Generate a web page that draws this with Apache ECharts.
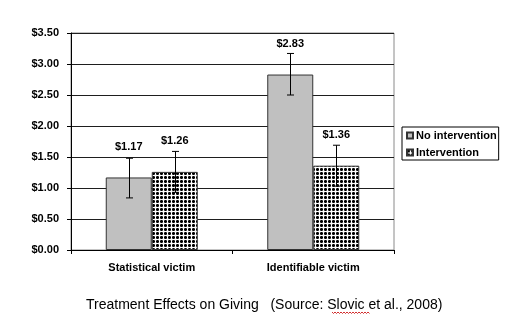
<!DOCTYPE html>
<html>
<head>
<meta charset="utf-8">
<script src="https://cdn.jsdelivr.net/npm/echarts@6/dist/echarts.min.js"></script>
<style>
  html, body { margin: 0; padding: 0; background: #fff; }
  #chart { width: 520px; height: 334px; }
</style>
</head>
<body>
<div id="chart"></div>
<script>
// Donation amounts by victim framing, with error ranges
const categories = ['Statistical victim', 'Identifiable victim'];
const seriesNames = ['No intervention', 'Intervention'];
const noIntervention = [1.17, 2.83];
const intervention = [1.26, 1.36];
const noInterventionLow = [0.84, 2.50];
const noInterventionHigh = [1.48, 3.17];
const interventionLow = [0.93, 1.03];
const interventionHigh = [1.59, 1.69];
const yTicks = { min: 0, max: 3.5, step: 0.5 };
const caption = 'Treatment Effects on Giving   (Source: Slovic et al., 2008)';

const FONT = '"Liberation Sans", Arial, sans-serif';
const BAR_W = 46;

// small dotted tile used as the fill for the "Intervention" bars
function dotTile() {
  const c = document.createElement('canvas');
  c.width = 4; c.height = 4;
  const g = c.getContext('2d');
  g.fillStyle = '#ffffff';
  g.fillRect(0, 0, 4, 4);
  g.fillStyle = '#000000';
  g.fillRect(0, 0, 3, 3);
  g.fillStyle = '#555555';
  g.fillRect(0, 0, 1, 1); g.fillRect(2, 0, 1, 1);
  g.fillRect(0, 2, 1, 1); g.fillRect(2, 2, 1, 1);
  return c;
}

// error bar rows: [categoryIndex, low, high, seriesSlot]
const errRows = [];
categories.forEach((_, i) => {
  errRows.push([i, noInterventionLow[i], noInterventionHigh[i], 0]);
  errRows.push([i, interventionLow[i], interventionHigh[i], 1]);
});

function renderErr(params, api) {
  const cat = api.value(0);
  const slot = api.value(3);
  const pLow = api.coord([cat, api.value(1)]);
  const pHigh = api.coord([cat, api.value(2)]);
  const dx = slot === 0 ? -BAR_W / 2 : BAR_W / 2;
  const x = Math.round(pLow[0] + dx) + 0.5;
  const cap = 3.5;
  const st = { stroke: '#000', lineWidth: 1 };
  return {
    type: 'group',
    children: [
      { type: 'line', shape: { x1: x, y1: pLow[1], x2: x, y2: pHigh[1] }, style: st },
      { type: 'line', shape: { x1: x - cap, y1: pLow[1], x2: x + cap, y2: pLow[1] }, style: st },
      { type: 'line', shape: { x1: x - cap, y1: pHigh[1], x2: x + cap, y2: pHigh[1] }, style: st }
    ]
  };
}

// red wavy underline beneath the author name in the caption
function squiggle(x0, x1, y) {
  const pts = [];
  let up = true;
  for (let x = x0; x <= x1; x += 1.5) {
    pts.push([x, up ? y : y + 1.5]);
    up = !up;
  }
  return pts;
}

const valueLabel = {
  show: true,
  position: 'top',
  distance: 25,
  formatter: p => '$' + p.value.toFixed(2),
  fontFamily: FONT,
  fontWeight: 'bold',
  fontSize: 11,
  color: '#000'
};

const chart = echarts.init(document.getElementById('chart'), null, { renderer: 'canvas' });
chart.setOption({
  backgroundColor: '#fff',
  animation: false,
  grid: {
    left: 71, top: 33, width: 323, height: 217,
    show: true, borderColor: '#8a8a8a', borderWidth: 1, backgroundColor: 'transparent'
  },
  legend: {
    data: seriesNames,
    orient: 'vertical',
    left: 402, top: 127,
    itemWidth: 6, itemHeight: 6, itemGap: 4,
    icon: 'rect',
    padding: [2, 2, 1, 4],
    borderColor: '#000', borderWidth: 1,
    textStyle: { fontFamily: FONT, fontWeight: 'bold', fontSize: 11, color: '#000', lineHeight: 13, padding: [0, 0, 0, -2] }
  },
  xAxis: {
    type: 'category',
    data: categories,
    axisLine: { lineStyle: { color: '#000', width: 1 } },
    axisTick: { show: true, length: 4, lineStyle: { color: '#000' } },
    axisLabel: { fontFamily: FONT, fontWeight: 'bold', fontSize: 11, color: '#000', margin: 12 }
  },
  yAxis: {
    type: 'value',
    min: yTicks.min, max: yTicks.max, interval: yTicks.step,
    axisLine: { show: true, lineStyle: { color: '#000', width: 1 } },
    axisTick: { show: true, length: 4, lineStyle: { color: '#000' } },
    axisLabel: {
      fontFamily: FONT, fontWeight: 'bold', fontSize: 11, color: '#000', margin: 12,
      formatter: v => '$' + v.toFixed(2)
    },
    splitLine: { lineStyle: { color: '#1e1e1e', width: 1 } }
  },
  series: [
    {
      name: seriesNames[0], type: 'bar', data: noIntervention,
      barWidth: BAR_W, barGap: '0%',
      itemStyle: { color: '#c0c0c0', borderColor: '#333', borderWidth: 1 },
      label: valueLabel, z: 2
    },
    {
      name: seriesNames[1], type: 'bar', data: intervention,
      barWidth: BAR_W, barGap: '0%',
      itemStyle: { color: { image: dotTile(), repeat: 'repeat' }, borderColor: '#333', borderWidth: 1 },
      label: valueLabel, z: 2
    },
    {
      type: 'custom', name: 'range', data: errRows,
      renderItem: renderErr, z: 5, silent: true,
      encode: { x: 0, y: [1, 2] }
    }
  ],
  graphic: [
    {
      type: 'text', left: 86, top: 298,
      style: { text: caption, fontFamily: FONT, fontSize: 14, fill: '#000' }
    },
    {
      type: 'polyline',
      shape: { points: squiggle(332, 370, 312) },
      style: { stroke: '#d23030', lineWidth: 1, fill: null }
    }
  ]
});
</script>
</body>
</html>
